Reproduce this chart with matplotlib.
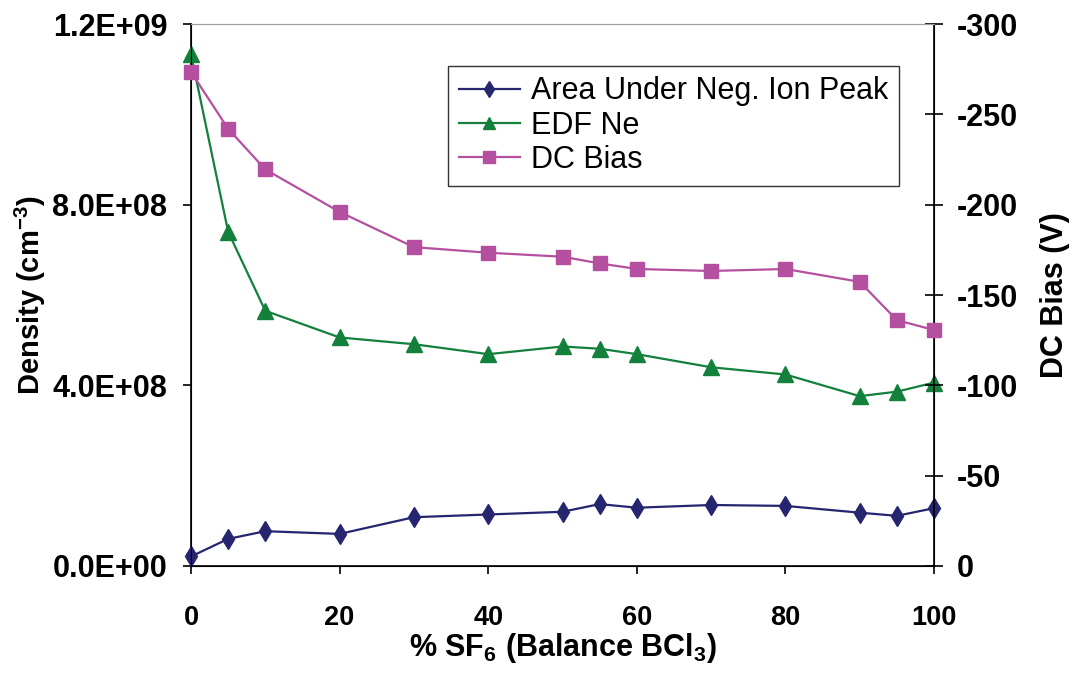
import matplotlib
matplotlib.use('Agg')
import matplotlib.pyplot as plt

# % SF6 in the SF6/BCl3 mix
sf6_pct = [0, 5, 10, 20, 30, 40, 50, 55, 60, 70, 80, 90, 95, 100]

# densities (cm^-3) on the left axis
neg_ion_area = [2.1e7, 6.0e7, 7.7e7, 7.1e7, 1.08e8, 1.14e8, 1.2e8, 1.37e8,
                1.29e8, 1.35e8, 1.33e8, 1.18e8, 1.11e8, 1.28e8]
edf_ne = [1.133e9, 7.40e8, 5.65e8, 5.06e8, 4.91e8, 4.69e8, 4.86e8, 4.81e8,
          4.69e8, 4.40e8, 4.24e8, 3.76e8, 3.86e8, 4.06e8]

# DC bias (V) on the right axis
dc_bias = [-273.5, -242, -219.5, -196, -176.5, -173.4, -171.2, -167.5,
           -164.4, -163.3, -164.4, -157.3, -136.1, -130.6]

navy = '#25266f'
green = '#13803c'
pink = '#b550a0'

plt.rcParams['font.family'] = ['Liberation Sans', 'DejaVu Sans']
plt.rcParams['mathtext.fontset'] = 'custom'
plt.rcParams['mathtext.rm'] = 'Liberation Sans'
plt.rcParams['mathtext.bf'] = 'Liberation Sans:bold'

fig = plt.figure(figsize=(10.73, 6.77), dpi=100)
ax = fig.add_axes([0.178, 0.164, 0.6925, 0.8005])
ax2 = ax.twinx()

l1, = ax.plot(sf6_pct, neg_ion_area, color=navy, lw=1.6, marker='d',
              ms=10, label='Area Under Neg. Ion Peak', clip_on=False, zorder=3)
l2, = ax.plot(sf6_pct, edf_ne, color=green, lw=1.6, marker='^',
              ms=11, label='EDF Ne', clip_on=False, zorder=3)
l3, = ax2.plot(sf6_pct, dc_bias, color=pink, lw=1.6, marker='s',
               ms=10, label='DC Bias', clip_on=False, zorder=3)

ax.set_xlim(0, 100)
ax.set_ylim(0, 1.2e9)
ax2.set_ylim(0, -300)

ax.set_xticks([0, 20, 40, 60, 80, 100])
ax.set_yticks([0, 4e8, 8e8, 1.2e9])
ax.set_yticklabels(['0.0E+00', '4.0E+08', '8.0E+08', '1.2E+09'])
ax2.set_yticks([0, -50, -100, -150, -200, -250, -300])
ax2.set_yticklabels(['0', '-50', '-100', '-150', '-200', '-250', '-300'])

for s in ['left', 'bottom']:
    ax.spines[s].set_linewidth(1.2)
ax.spines['top'].set_color('#a0a0a0')
ax2.spines['top'].set_color('#a0a0a0')
ax2.spines['right'].set_linewidth(1.2)

ax.tick_params(axis='y', direction='out', length=6, width=1.2, pad=11,
               labelsize=22)
ax.tick_params(axis='x', direction='out', length=6, width=1.2, pad=22,
               labelsize=19.5)
ax2.tick_params(axis='y', direction='inout', length=13, width=1.2, pad=10,
                labelsize=22)
for t in ax.get_yticklabels() + ax2.get_yticklabels() + ax.get_xticklabels():
    t.set_fontweight('bold')

ax.set_ylabel('Density (cm$^{\\mathbf{-3}}$)', fontsize=21, fontweight='bold',
              labelpad=3)
ax2.set_ylabel('DC Bias (V)', fontsize=22, fontweight='bold', labelpad=16)
ax.set_xlabel('% SF$_{\\mathbf{6}}$ (Balance BCl$_{\\mathbf{3}}$)', fontsize=22,
              fontweight='bold', labelpad=0)

leg = ax2.legend(handles=[l1, l2, l3], loc='upper left',
                 bbox_to_anchor=(0.346, 0.923), fontsize=22, frameon=True,
                 fancybox=False, edgecolor='black', handlelength=2.0,
                 handletextpad=0.35, labelspacing=0.14, borderpad=0.35,
                 borderaxespad=0, markerscale=0.8)
leg.get_frame().set_linewidth(1.0)

fig.savefig('out.png', dpi=100)
